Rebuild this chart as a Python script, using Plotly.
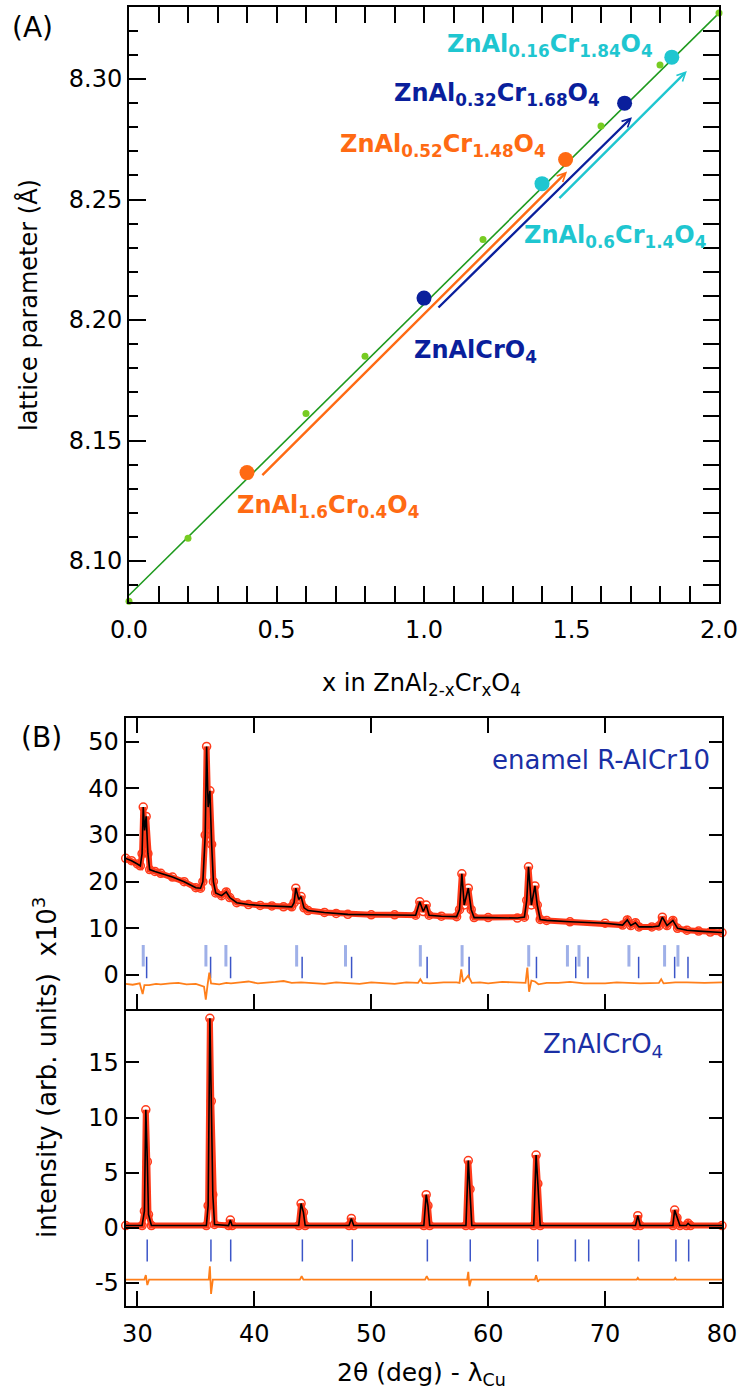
import plotly.graph_objects as go

FONT = "DejaVu Sans"
W, H = 740, 1393

# ---------------- Panel A data ----------------
vegard_x = [0.0, 2.0]
vegard_a = [8.0858, 8.3274]

ref_x = [0.0, 0.2, 0.6, 0.8, 1.2, 1.6, 1.8, 2.0]
ref_a = [8.0833, 8.1095, 8.1612, 8.1850, 8.2334, 8.2805, 8.3058, 8.3274]

sample_labels = [
    "ZnAl<sub>1.6</sub>Cr<sub>0.4</sub>O<sub>4</sub>",
    "ZnAlCrO<sub>4</sub>",
    "ZnAl<sub>0.6</sub>Cr<sub>1.4</sub>O<sub>4</sub>",
    "ZnAl<sub>0.52</sub>Cr<sub>1.48</sub>O<sub>4</sub>",
    "ZnAl<sub>0.32</sub>Cr<sub>1.68</sub>O<sub>4</sub>",
    "ZnAl<sub>0.16</sub>Cr<sub>1.84</sub>O<sub>4</sub>",
]
sample_x = [0.40, 1.00, 1.40, 1.48, 1.68, 1.84]
sample_a = [8.1367, 8.2091, 8.2566, 8.2666, 8.2900, 8.3091]

# trend arrows (start -> end, data units)
arrow_from_x = [0.447, 1.044, 1.454]
arrow_from_a = [8.1350, 8.2046, 8.2500]
arrow_to_x = [1.485, 1.705, 1.891]
arrow_to_a = [8.2616, 8.2842, 8.3033]

# ---------------- Panel B data (x10^3 counts) ----------------
enamel_tt = [29.0, 29.5, 30.0, 30.25, 30.4, 30.5, 30.62, 30.75, 30.9, 31.05,
             31.5, 32.0, 33.0, 34.0, 35.0, 35.4, 35.6, 35.8, 35.92, 36.05,
             36.2, 36.35, 36.5, 36.7, 37.2, 37.6, 37.9, 38.5, 39.5, 40.5,
             41.5, 42.5, 43.2, 43.4, 43.55, 43.8, 44.0, 44.25, 44.6, 46.0,
             47.0, 48.0, 50.0, 52.0, 53.8, 54.15, 54.45, 54.7, 54.95, 56.0,
             57.3, 57.55, 57.75, 57.95, 58.3, 58.55, 58.8, 60.0, 62.5, 63.1,
             63.3, 63.45, 63.7, 64.0, 64.2, 64.45, 65.0, 67.0, 70.0, 71.5,
             71.9, 72.2, 72.6, 72.9, 74.0, 74.6, 74.9, 75.3, 75.8, 76.2,
             77.0, 78.0, 79.0, 80.0]
enamel_obs = [25.0, 24.5, 23.8, 23.4, 26.0, 36.0, 31.0, 34.0, 26.0, 22.6,
              22.2, 21.8, 21.0, 20.0, 18.7, 18.6, 20.0, 30.0, 49.0, 36.0,
              39.5, 28.0, 20.0, 17.6, 17.0, 17.8, 16.6, 15.5, 15.1, 14.9,
              14.8, 14.6, 14.6, 15.5, 18.6, 16.2, 16.8, 14.4, 13.8, 13.4,
              13.2, 13.0, 12.9, 12.9, 12.8, 15.7, 13.6, 15.0, 12.8, 12.6,
              12.5, 14.0, 21.7, 15.0, 18.6, 14.0, 12.3, 12.3, 12.2, 12.4,
              16.0, 23.2, 15.0, 19.1, 15.0, 11.9, 11.7, 11.4, 11.1, 10.7,
              11.8, 10.6, 11.2, 10.3, 10.3, 10.5, 12.4, 10.6, 11.7, 10.0,
              9.6, 9.4, 9.2, 9.1]
enamel_diff_tt = [29.0, 29.6, 30.2, 30.45, 30.6, 31.0, 31.6, 32.0, 32.8, 33.5,
                  34.2, 35.0, 35.7, 35.85, 36.0, 36.15, 36.3, 37.0, 37.6, 38.0,
                  38.8, 39.5, 40.3, 41.0, 41.8, 42.5, 43.2, 44.0, 45.0, 46.0,
                  47.0, 48.0, 49.0, 50.0, 51.0, 52.0, 53.0, 54.0, 54.2, 54.4,
                  55.0, 56.2, 57.3, 57.55, 57.7, 57.85, 58.3, 58.6, 59.3, 60.0,
                  61.2, 62.5, 63.2, 63.35, 63.5, 63.7, 64.0, 64.3, 65.0, 66.0,
                  67.0, 68.2, 70.0, 71.0, 72.0, 73.0, 74.6, 74.8, 75.0, 76.0,
                  77.0, 78.5, 80.0]
enamel_diff = [-1.9, -2.1, -1.8, -4.1, -2.2, -2.2, -1.9, -2.0, -1.8, -1.7,
               -2.0, -1.9, -2.5, -5.3, -2.2, 0.5, -1.8, -2.0, -1.7, -1.8,
               -1.6, -1.4, -1.8, -1.7, -1.5, -1.3, -1.7, -1.6, -1.8, -1.9,
               -1.6, -1.7, -1.9, -1.6, -1.8, -1.9, -1.6, -1.7, -0.9, -1.7,
               -1.8, -1.6, -1.6, -1.7, 1.2, -1.5, -0.1, -1.7, -1.6, -1.8,
               -1.5, -1.6, -1.7, 1.6, -3.6, -1.2, -1.4, -2.0, -1.7, -1.7,
               -1.5, -1.8, -1.8, -1.6, -1.7, -1.8, -1.7, -0.9, -1.8, -1.6,
               -1.6, -1.7, -1.6]
enamel_bragg_1 = [30.50, 35.86, 37.57, 43.62, 47.80, 54.20, 57.77, 63.47,
                  66.78, 67.77, 72.04, 75.09, 76.23]
enamel_bragg_2 = [30.79, 36.26, 37.97, 44.09, 48.32, 54.78, 58.37, 64.13,
                  67.49, 68.54, 72.87, 75.95, 77.09]

znalcro_tt = [29.0, 30.4, 30.6, 30.72, 30.85, 30.95, 31.2, 35.9, 36.05, 36.2,
              36.32, 36.45, 36.6, 37.8, 37.95, 38.1, 43.8, 44.0, 44.2, 44.35,
              48.1, 48.3, 48.5, 54.5, 54.7, 54.85, 55.0, 58.1, 58.3, 58.45,
              58.6, 63.9, 64.1, 64.25, 64.45, 72.6, 72.8, 73.0, 75.8, 75.95,
              76.15, 76.4, 76.95, 77.1, 77.3, 80.0]
znalcro_obs = [0.2, 0.2, 1.5, 10.7, 6.0, 1.2, 0.2, 0.2, 2.0, 19.0,
               11.5, 3.0, 0.3, 0.2, 0.7, 0.2, 0.2, 2.2, 1.4, 0.2,
               0.2, 0.85, 0.2, 0.2, 3.0, 2.0, 0.2, 0.2, 6.1, 3.5,
               0.2, 0.2, 6.6, 4.0, 0.2, 0.2, 1.1, 0.2, 0.2, 1.6,
               0.9, 0.2, 0.2, 0.4, 0.2, 0.2]
znalcro_diff_tt = [29.0, 30.6, 30.72, 30.85, 31.0, 36.1, 36.2, 36.3, 36.45, 43.9,
                   44.05, 44.2, 54.6, 54.75, 54.9, 58.2, 58.3, 58.4, 58.55, 64.0,
                   64.1, 64.25, 64.4, 72.7, 72.8, 72.9, 75.9, 76.0, 76.1, 80.0]
znalcro_diff = [-4.7, -4.7, -4.3, -5.2, -4.7, -4.7, -3.5, -6.0, -4.7, -4.7,
                -4.4, -4.7, -4.7, -4.4, -4.7, -4.7, -4.0, -5.3, -4.7, -4.7,
                -4.3, -4.9, -4.7, -4.7, -4.55, -4.7, -4.7, -4.55, -4.7, -4.7]
znalcro_bragg = [30.84, 36.29, 37.98, 44.11, 48.38, 54.80, 58.47, 64.24,
                 67.46, 68.60, 72.87, 76.06, 77.15]

# tick labels of the lower XRD panel (hyphen minus as in the original)
znalcro_ytick_vals = [-5, 0, 5, 10, 15]
znalcro_ytick_text = ["-5", "0", "5", "10", "15"]

# ---------------- styles ----------------
ORANGE = "#ff6a13"
NAVY = "#0a1f9c"
CYAN = "#1fc6d0"
GREEN = "#1e9a1e"
LGREEN = "#77cc22"
RED = "#ff3a1a"
DIFF = "#ff7f1a"
TXTBLUE = "#1a2fa5"
sample_colors = [ORANGE, NAVY, CYAN, ORANGE, NAVY, CYAN]
arrow_colors = [ORANGE, NAVY, CYAN]
# label anchors (left edge, vertical middle) in data units
label_x = [0.359, 0.959, 1.332, 0.708, 0.892, 1.071]
label_y = [8.1228, 8.1871, 8.2346, 8.2726, 8.2934, 8.3141]


def px_x(p):
    return p / W


def px_y(p):
    return 1 - p / H


def bragg_xy(pos, lo, hi):
    xs, ys = [], []
    for p in pos:
        xs += [p, p, None]
        ys += [lo, hi, None]
    return xs, ys


fig = go.Figure()

# ---- Panel A ----
fig.add_trace(go.Scatter(x=vegard_x, y=vegard_a, mode="lines",
                         line=dict(color=GREEN, width=1.6),
                         xaxis="x", yaxis="y", cliponaxis=False))
fig.add_trace(go.Scatter(x=ref_x, y=ref_a, mode="markers",
                         marker=dict(color=LGREEN, size=7),
                         xaxis="x", yaxis="y", cliponaxis=False))
for sx, sa, c in zip(sample_x, sample_a, sample_colors):
    fig.add_trace(go.Scatter(x=[sx], y=[sa], mode="markers",
                             marker=dict(color=c, size=15),
                             xaxis="x", yaxis="y", cliponaxis=False))
# invisible trace carrying the right-hand tick axis
fig.add_trace(go.Scatter(x=[sample_x[0]], y=[sample_a[0]], mode="markers",
                         marker=dict(opacity=0), xaxis="x", yaxis="y4",
                         hoverinfo="skip"))

# ---- Panel B, top: enamel ----
bx1, by1 = bragg_xy(enamel_bragg_1, 1.8, 6.4)
bx2, by2 = bragg_xy(enamel_bragg_2, -0.7, 3.9)
fig.add_trace(go.Scatter(x=bx1, y=by1, mode="lines",
                         line=dict(color="#9fb0e8", width=3),
                         xaxis="x2", yaxis="y2"))
fig.add_trace(go.Scatter(x=bx2, y=by2, mode="lines",
                         line=dict(color="#3b55c8", width=1.5),
                         xaxis="x2", yaxis="y2"))
fig.add_trace(go.Scatter(x=enamel_diff_tt, y=enamel_diff, mode="lines",
                         line=dict(color=DIFF, width=1.8),
                         xaxis="x2", yaxis="y2"))
fig.add_trace(go.Scatter(x=enamel_tt, y=enamel_obs, mode="lines+markers",
                         line=dict(color=RED, width=6),
                         marker=dict(symbol="circle-open", size=8, color=RED,
                                     line=dict(width=1.5)),
                         xaxis="x2", yaxis="y2", cliponaxis=False))
fig.add_trace(go.Scatter(x=enamel_tt, y=enamel_obs, mode="lines",
                         line=dict(color="black", width=1.6),
                         xaxis="x2", yaxis="y2"))

# ---- Panel B, bottom: ZnAlCrO4 ----
bx3, by3 = bragg_xy(znalcro_bragg, -1.06, -3.06)
fig.add_trace(go.Scatter(x=bx3, y=by3, mode="lines",
                         line=dict(color="#3b55c8", width=1.5),
                         xaxis="x3", yaxis="y3"))
fig.add_trace(go.Scatter(x=znalcro_diff_tt, y=znalcro_diff, mode="lines",
                         line=dict(color=DIFF, width=1.8),
                         xaxis="x3", yaxis="y3"))
fig.add_trace(go.Scatter(x=znalcro_tt, y=znalcro_obs, mode="lines+markers",
                         line=dict(color=RED, width=6),
                         marker=dict(symbol="circle-open", size=8, color=RED,
                                     line=dict(width=1.5)),
                         xaxis="x3", yaxis="y3", cliponaxis=False))
fig.add_trace(go.Scatter(x=znalcro_tt, y=znalcro_obs, mode="lines",
                         line=dict(color="black", width=1.6),
                         xaxis="x3", yaxis="y3"))

tickfont = dict(family=FONT, size=24, color="black")
base = dict(showline=True, linecolor="black", linewidth=2, ticks="inside",
            tickcolor="black", tickwidth=2, showgrid=False, zeroline=False,
            tickfont=tickfont, automargin=False)

domA_x = [px_x(129), px_x(719)]
domA_y = [px_y(602), px_y(7)]
domB_x = [px_x(125.7), px_x(722)]
domB1_y = [px_y(1009), px_y(718)]
domB2_y = [px_y(1306), px_y(1009)]

fig.update_layout(
    width=W, height=H,
    margin=dict(l=0, r=0, t=0, b=0, pad=0, autoexpand=False),
    paper_bgcolor="white", plot_bgcolor="white", showlegend=False,
    font=dict(family=FONT, color="black"),
    xaxis=dict(base, domain=domA_x, range=[0, 2], anchor="y", dtick=0.5,
               tick0=0, tickformat=".1f", ticklen=16, mirror="allticks",
               minor=dict(dtick=0.1, ticklen=8, tickwidth=2, ticks="inside",
                          tickcolor="black"),
               ticklabelstandoff=5),
    yaxis=dict(base, domain=domA_y, range=[8.0830, 8.3299], anchor="x",
               dtick=0.05, tick0=8.10, tickformat=".2f", ticklen=17,
               mirror=True,
               minor=dict(dtick=0.01, ticklen=9, tickwidth=2, ticks="inside",
                          tickcolor="black"),
               ticklabelstandoff=0),
    yaxis4=dict(overlaying="y", side="right", anchor="x",
                range=[8.0830, 8.3299], dtick=0.01, tick0=8.10,
                ticks="inside", ticklen=16, tickwidth=2, tickcolor="black",
                showticklabels=False, showline=False, showgrid=False,
                zeroline=False, automargin=False),
    xaxis2=dict(base, domain=domB_x, range=[29, 80], anchor="y2", dtick=10,
                tick0=0, ticklen=15, mirror="allticks", showticklabels=False),
    yaxis2=dict(base, domain=domB1_y, range=[-7.3, 55.1], anchor="x2",
                dtick=10, tick0=0, ticklen=13, mirror="allticks",
                ticklabelstandoff=0),
    xaxis3=dict(base, domain=domB_x, range=[29, 80], anchor="y3", dtick=10,
                tick0=0, ticklen=15, mirror=False, ticklabelstandoff=5),
    yaxis3=dict(base, domain=domB2_y, range=[-7.1, 19.85], anchor="x3",
                tickmode="array", tickvals=znalcro_ytick_vals,
                ticktext=znalcro_ytick_text, ticklen=13, mirror="allticks",
                ticklabelstandoff=0),
)

ann = []
# sample labels
for t, lx, ly, c in zip(sample_labels, label_x, label_y, sample_colors):
    ann.append(dict(text="<b>" + t + "</b>", x=lx, y=ly, xref="x", yref="y",
                    xanchor="left", yanchor="middle", showarrow=False,
                    font=dict(family=FONT, size=24, color=c)))
# trend arrows
for fx, fa, tx, ta, c in zip(arrow_from_x, arrow_from_a, arrow_to_x,
                             arrow_to_a, arrow_colors):
    ann.append(dict(text="", x=tx, y=ta, ax=fx, ay=fa, xref="x", yref="y",
                    axref="x", ayref="y", showarrow=True, arrowhead=5,
                    arrowsize=0.7, arrowwidth=2.4, arrowcolor=c,
                    standoff=0, startstandoff=0))


def paper_text(text, cx, cy, size, angle=0, color="black"):
    return dict(text=text, x=px_x(cx), y=px_y(cy), xref="paper",
                yref="paper", xanchor="center", yanchor="middle",
                textangle=angle, showarrow=False,
                font=dict(family=FONT, size=size, color=color))


ann += [
    paper_text("(A)", 32, 28, 28),
    paper_text("(B)", 41, 737, 28),
    paper_text("lattice parameter (Å)", 29, 305, 24, -90),
    paper_text("x in ZnAl<sub>2-x</sub>Cr<sub>x</sub>O<sub>4</sub>",
               421, 684, 24),
    paper_text("intensity (arb. units)\u00a0 x10<sup>3</sup>", 45, 1068, 26,
               -90),
    paper_text("2θ (deg) - λ<sub>Cu</sub>", 421.5, 1374, 25),
    dict(text="enamel R-AlCr10", x=79.11, y=46.0, xref="x2", yref="y2",
         xanchor="right", yanchor="middle", showarrow=False,
         font=dict(family=FONT, size=26, color=TXTBLUE)),
    dict(text="ZnAlCrO<sub>4</sub>", x=64.5, y=16.5, xref="x3", yref="y3",
         xanchor="left", yanchor="middle", showarrow=False,
         font=dict(family=FONT, size=26, color=TXTBLUE)),
]
fig.update_layout(annotations=ann)

fig.write_html("out.html",
               config={"displayModeBar": False},
               post_script="document.body.style.margin='0px';"
                           "document.body.style.overflow='hidden';")
